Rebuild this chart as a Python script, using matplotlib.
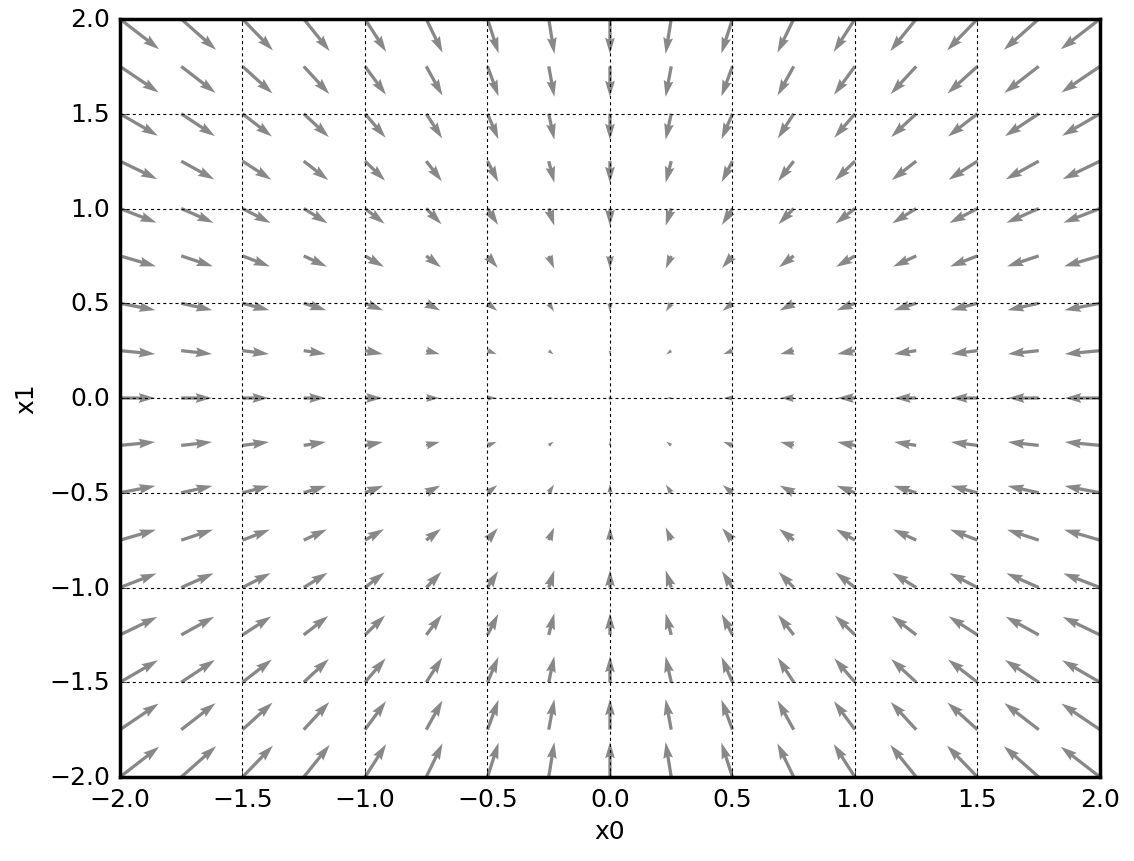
import numpy as np
import matplotlib
matplotlib.use("Agg")
import matplotlib.pyplot as plt

plt.style.use("classic")
plt.rcParams["lines.scale_dashes"] = False

# grid sample points (x0 and x1 share the same positions)
x0_pts = [-2.0, -1.75, -1.5, -1.25, -1.0, -0.75, -0.5, -0.25, 0.0,
          0.25, 0.5, 0.75, 1.0, 1.25, 1.5, 1.75, 2.0, 2.25]
x1_pts = [-2.0, -1.75, -1.5, -1.25, -1.0, -0.75, -0.5, -0.25, 0.0,
          0.25, 0.5, 0.75, 1.0, 1.25, 1.5, 1.75, 2.0, 2.25]
# arrow components (negative gradient) along each axis
u_vals = [4.0, 3.5, 3.0, 2.5, 2.0, 1.5, 1.0, 0.5, 0.0,
          -0.5, -1.0, -1.5, -2.0, -2.5, -3.0, -3.5, -4.0, -4.5]
v_vals = [4.0, 3.5, 3.0, 2.5, 2.0, 1.5, 1.0, 0.5, 0.0,
          -0.5, -1.0, -1.5, -2.0, -2.5, -3.0, -3.5, -4.0, -4.5]

X, Y = np.meshgrid(x0_pts, x1_pts)
U, V = np.meshgrid(u_vals, v_vals)

fig = plt.figure(figsize=(11.34, 8.62), dpi=100)
ax = fig.add_axes([0.1058, 0.0974, 0.8642, 0.8794])
ax.quiver(X.flatten(), Y.flatten(), U.flatten(), V.flatten(),
          angles="xy", color="#888888", edgecolor="none")
ax.set_xlim([-2, 2])
ax.set_ylim([-2, 2])
ax.set_xlabel("x0", fontsize=18, labelpad=6)
ax.set_ylabel("x1", fontsize=18, labelpad=8)
ax.tick_params(labelsize=18, pad=7)
for s in ax.spines.values():
    s.set_linewidth(2.5)
ax.grid(True, color="black", linewidth=0.8, linestyle=(0, (2.2, 2.2)))
fig.savefig("out.png", dpi=100)
